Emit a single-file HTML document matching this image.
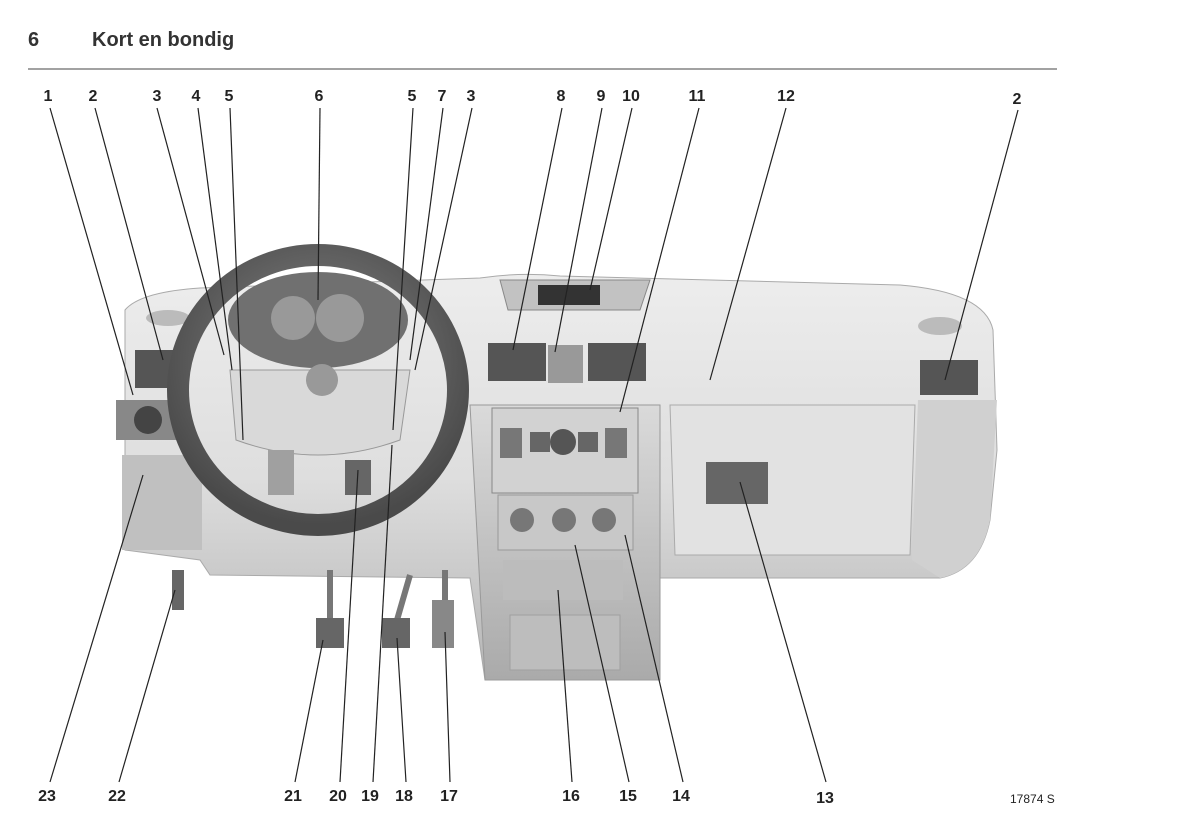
<!DOCTYPE html>
<html><head><meta charset="utf-8"><style>
html,body{margin:0;padding:0;background:#fff;}
svg{display:block}
text{font-family:"Liberation Sans",sans-serif;}
</style></head><body>
<svg width="1191" height="823" viewBox="0 0 1191 823" xmlns="http://www.w3.org/2000/svg">
<defs>
<linearGradient id="dash" x1="0" y1="0" x2="0" y2="1">
<stop offset="0" stop-color="#ededed"/><stop offset="0.5" stop-color="#dedede"/><stop offset="1" stop-color="#b5b5b5"/></linearGradient>
<linearGradient id="low" x1="0" y1="0" x2="0" y2="1">
<stop offset="0" stop-color="#dadada"/><stop offset="1" stop-color="#aaaaaa"/></linearGradient>
<radialGradient id="wheel" cx="0.5" cy="0.4" r="0.6"><stop offset="0" stop-color="#8a8a8a"/><stop offset="1" stop-color="#4a4a4a"/></radialGradient>
</defs>
<text x="28" y="46" font-size="20" font-weight="bold" fill="#333">6</text>
<text x="92" y="46" font-size="20" fill="#333" style="font-weight:600">Kort en bondig</text>
<line x1="28" y1="69" x2="1057" y2="69" stroke="#444" stroke-width="1"/>

<path d="M125 310 Q140 292 200 288 L480 278 Q520 272 560 276 L900 285 Q985 292 993 330 L997 450 L990 520 Q980 570 940 578 L650 578 L650 680 L485 680 L470 578 L210 575 L200 560 L125 550 Z" fill="url(#dash)" stroke="#aaa"/>
<path d="M470 405 L660 405 L660 680 L485 680 Z" fill="url(#low)" stroke="#999"/>
<rect x="492" y="408" width="146" height="85" fill="#d2d2d2" stroke="#888"/>
<circle cx="563" cy="442" r="13" fill="#555"/>
<rect x="500" y="428" width="22" height="30" fill="#777"/><rect x="605" y="428" width="22" height="30" fill="#777"/>
<rect x="530" y="432" width="20" height="20" fill="#666"/><rect x="578" y="432" width="20" height="20" fill="#666"/>
<rect x="498" y="495" width="135" height="55" fill="#c8c8c8" stroke="#999"/>
<circle cx="522" cy="520" r="12" fill="#777"/><circle cx="564" cy="520" r="12" fill="#777"/><circle cx="604" cy="520" r="12" fill="#777"/>
<rect x="503" y="560" width="120" height="40" fill="#bcbcbc"/>
<rect x="510" y="615" width="110" height="55" fill="#bdbdbd" stroke="#a0a0a0"/>
<path d="M670 405 L915 405 L910 555 L675 555 Z" fill="#e2e2e2" stroke="#aaa"/>
<rect x="706" y="462" width="62" height="42" fill="#666"/>
<path d="M918 400 L997 400 L990 520 Q980 570 940 578 L912 560 Z" fill="#d0d0d0"/>
<rect x="920" y="360" width="58" height="35" fill="#555"/>
<rect x="488" y="343" width="58" height="38" fill="#555"/>
<rect x="548" y="345" width="35" height="38" fill="#999"/>
<rect x="588" y="343" width="58" height="38" fill="#555"/>
<rect x="135" y="350" width="52" height="38" fill="#555"/>
<ellipse cx="168" cy="318" rx="22" ry="8" fill="#bbb"/><ellipse cx="940" cy="326" rx="22" ry="9" fill="#bbb"/>
<path d="M500 280 L650 280 L640 310 L508 310 Z" fill="#c2c2c2" stroke="#888"/>
<rect x="538" y="285" width="62" height="20" fill="#333"/>
<rect x="116" y="400" width="70" height="40" fill="#888"/>
<circle cx="148" cy="420" r="14" fill="#444"/>
<rect x="122" y="455" width="80" height="95" fill="#c0c0c0"/>
<ellipse cx="318" cy="320" rx="90" ry="48" fill="#707070"/>
<circle cx="293" cy="318" r="22" fill="#999"/><circle cx="340" cy="318" r="24" fill="#999"/>
<ellipse cx="318" cy="390" rx="140" ry="135" fill="none" stroke="url(#wheel)" stroke-width="22"/>
<path d="M230 370 L410 370 L400 440 Q318 470 236 440 Z" fill="#d9d9d9" stroke="#999"/>
<circle cx="322" cy="380" r="16" fill="#999"/>
<rect x="268" y="450" width="26" height="45" fill="#a0a0a0"/><rect x="345" y="460" width="26" height="35" fill="#666"/>
<rect x="172" y="570" width="12" height="40" fill="#666"/>
<line x1="330" y1="570" x2="330" y2="620" stroke="#777" stroke-width="6"/>
<rect x="316" y="618" width="28" height="30" fill="#666"/>
<line x1="410" y1="575" x2="397" y2="620" stroke="#777" stroke-width="6"/>
<rect x="382" y="618" width="28" height="30" fill="#666"/>
<line x1="445" y1="570" x2="445" y2="600" stroke="#777" stroke-width="6"/>
<rect x="432" y="600" width="22" height="48" fill="#888"/>

<g stroke="#222" stroke-width="1.2" fill="none">
<line x1="50" y1="108" x2="133" y2="395"/><line x1="95" y1="108" x2="163" y2="360"/>
<line x1="157" y1="108" x2="224" y2="355"/><line x1="198" y1="108" x2="232" y2="370"/>
<line x1="230" y1="108" x2="243" y2="440"/><line x1="320" y1="108" x2="318" y2="300"/>
<line x1="413" y1="108" x2="393" y2="430"/><line x1="443" y1="108" x2="410" y2="360"/>
<line x1="472" y1="108" x2="415" y2="370"/><line x1="562" y1="108" x2="513" y2="350"/>
<line x1="602" y1="108" x2="555" y2="352"/><line x1="632" y1="108" x2="590" y2="290"/>
<line x1="699" y1="108" x2="620" y2="412"/><line x1="786" y1="108" x2="710" y2="380"/>
<line x1="1018" y1="110" x2="945" y2="380"/>
<line x1="50" y1="782" x2="143" y2="475"/><line x1="119" y1="782" x2="175" y2="590"/>
<line x1="295" y1="782" x2="323" y2="640"/><line x1="340" y1="782" x2="358" y2="470"/>
<line x1="373" y1="782" x2="392" y2="445"/><line x1="406" y1="782" x2="397" y2="638"/>
<line x1="450" y1="782" x2="445" y2="632"/><line x1="572" y1="782" x2="558" y2="590"/>
<line x1="629" y1="782" x2="575" y2="545"/><line x1="683" y1="782" x2="625" y2="535"/>
<line x1="826" y1="782" x2="740" y2="482"/>
</g>
<g font-size="16" font-weight="bold" fill="#222" text-anchor="middle">
<text x="48" y="101">1</text><text x="93" y="101">2</text><text x="157" y="101">3</text>
<text x="196" y="101">4</text><text x="229" y="101">5</text><text x="319" y="101">6</text>
<text x="412" y="101">5</text><text x="442" y="101">7</text><text x="471" y="101">3</text>
<text x="561" y="101">8</text><text x="601" y="101">9</text><text x="631" y="101">10</text>
<text x="697" y="101">11</text><text x="786" y="101">12</text><text x="1017" y="104">2</text>
<text x="47" y="801">23</text><text x="117" y="801">22</text><text x="293" y="801">21</text>
<text x="338" y="801">20</text><text x="370" y="801">19</text><text x="404" y="801">18</text>
<text x="449" y="801">17</text><text x="571" y="801">16</text><text x="628" y="801">15</text>
<text x="681" y="801">14</text><text x="825" y="803">13</text>
</g>
<text x="1010" y="803" font-size="12" fill="#222">17874 S</text>
</svg>
</body></html>
